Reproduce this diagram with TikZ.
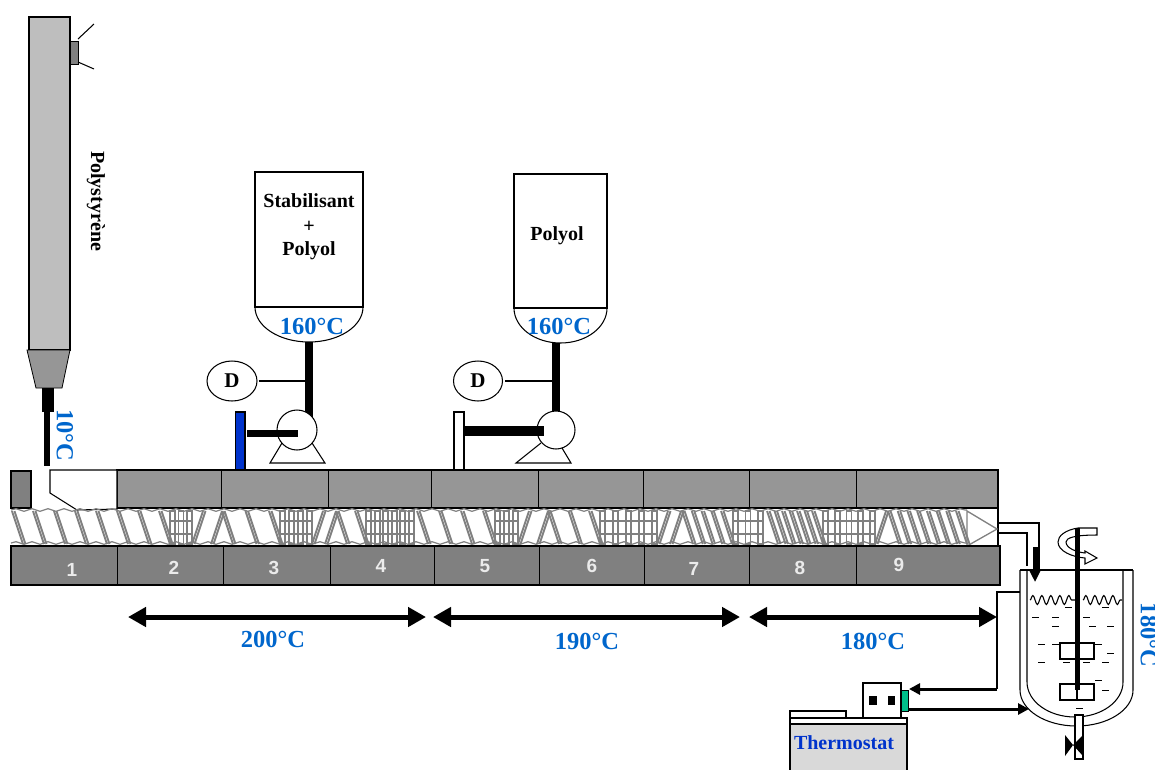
\documentclass[tikz,border=0pt]{standalone}
\usepackage{fontspec}
\setmainfont{Liberation Serif}
\setsansfont{Liberation Sans}
\usetikzlibrary{calc,arrows.meta,decorations.pathmorphing,shapes.geometric}
\definecolor{topgrey}{HTML}{969696}
\definecolor{lowgrey}{HTML}{808080}
\definecolor{colgrey}{HTML}{BEBEBE}
\definecolor{tempblue}{HTML}{0066CC}
\definecolor{pumpblue}{HTML}{0033CC}
\definecolor{portgreen}{HTML}{00C08A}
\tikzset{
    tlabel/.style={font=\fontsize{24.5}{24.5}\selectfont\bfseries, text=tempblue, inner sep=0pt},
    blabel/.style={font=\fontsize{20}{20}\selectfont\bfseries, inner sep=0pt},
    zonenum/.style={font=\sffamily\fontsize{19}{19}\selectfont\bfseries, text=white!92!black, inner sep=0pt},
    screw/.style={draw=lowgrey, line width=1.9pt},
    outline/.style={line width=1.05pt},
    span/.style={line width=5pt, {Triangle[length=18pt,width=19pt]}-{Triangle[length=18pt,width=19pt]}},
    feed/.style={line width=3pt, -{Triangle[length=11pt,width=11pt]}},
    dosing/.style={draw, ellipse, line width=1.05pt, inner sep=0pt, font=\fontsize{21}{21}\selectfont\bfseries},
    surface/.style={line width=1.1pt, decorate, decoration={snake,amplitude=4.5pt,segment length=9pt}}
}
% forward flights: start, end, number of bars
\newcommand{\flights}[3]{
    \foreach \k in {1,...,#3}{
        \pgfmathsetmacro{\xa}{#1+(\k-1)*(#2-#1-11)/max(#3-1,1)}
        \draw[screw] (\xa,511) -- (\xa+11,544);
        \draw[screw] (\xa+2.5,511) -- (\xa+13.5,544);
    }
}
% reversed flights
\newcommand{\backflights}[3]{
    \foreach \k in {1,...,#3}{
        \pgfmathsetmacro{\xa}{#1+11+(\k-1)*(#2-#1-11)/max(#3-1,1)}
        \draw[screw] (\xa,511) -- (\xa-11,544);
        \draw[screw] (\xa+2.5,511) -- (\xa-8.5,544);
    }
}
% kneading discs
\newcommand{\kneads}[3]{
    \foreach \k in {1,...,#3}{
        \pgfmathsetmacro{\xa}{#1+(\k-1)*(#2-#1-5)/max(#3-1,1)}
        \draw[screw] (\xa,511) rectangle (\xa+5,544);
    }
    \draw[screw, line width=1.3pt] (#1,521) -- (#2,521);
    \draw[screw, line width=1.3pt] (#1,534) -- (#2,534);
}
\begin{document}
\begin{tikzpicture}[x=1pt, y=-1pt]
    \useasboundingbox (0,0) rectangle (1155,769);

    %mark points
        \coordinate (colbot) at (48,388);
        \coordinate (colin) at (47,466);
        \coordinate (hopA) at (309,342);
        \coordinate (pumpA) at (297,430);
        \coordinate (hopB) at (556,343);
        \coordinate (pumpB) at (556,430);
        \coordinate (jacktop) at (997,592);
        \coordinate (jackbot) at (997,689);

    %polystyrene column
        \draw[outline, fill=colgrey] (29,17) rectangle (70,350);
        \draw[line width=.8pt, fill=lowgrey] (70,41) rectangle (78,64);
        \draw[outline] (78,39) -- (94,24);
        \draw[outline] (78,62) -- (94,69);
        \draw[line width=.8pt, fill=topgrey] (27,350) -- (70,350) -- (62,388) -- (36,388) -- cycle;
        \draw[line width=12pt] (colbot) -- ++(0,24);
        \draw[line width=6pt] (47,410) -- (colin);
        \node[blabel, rotate=-90] (polystyrene) at (96,201) {Polystyrène};
        \node[tlabel, rotate=-90] (tcol) at (65,435) {10°C};

    %barrel top
        \draw[outline, fill=topgrey] (117,470) rectangle (998,508);
        \foreach \x in {221,328,431,538,643,749,856}
            \draw[line width=.9pt] (\x,470) -- (\x,508);
        \draw[outline, fill=lowgrey] (11,471) rectangle (31,508);
        \draw[outline, fill=white] (50,470) -- (117,470) -- (117,509) -- (77,510) -- (50,493) -- cycle;

    %screw
        \draw[outline] (117,508) -- (998,508);
        \draw[outline] (998,508) -- (998,546);
        \draw[screw, line width=1.2pt, decorate, decoration={snake,amplitude=1.3pt,segment length=16pt}] (11,510) -- (967,510);
        \draw[screw, line width=1.2pt, decorate, decoration={snake,amplitude=1.3pt,segment length=16pt}] (11,543) -- (967,543);
        \flights{12}{170}{8}
        \kneads{170}{192}{3}
        \backflights{192}{222}{2}
        \flights{222}{280}{3}
        \kneads{280}{312}{4}
        \backflights{312}{336}{2}
        \flights{336}{366}{2}
        \kneads{366}{414}{6}
        \flights{417}{494}{4}
        \kneads{495}{518}{3}
        \backflights{518}{548}{2}
        \flights{548}{600}{3}
        \kneads{600}{657}{5}
        \backflights{657}{681}{2}
        \flights{682}{732}{5}
        \kneads{733}{763}{3}
        \flights{767}{823}{7}
        \kneads{823}{875}{5}
        \backflights{875}{888}{1}
        \flights{888}{967}{8}
        \draw[screw, line width=1.3pt] (967,511) -- (997,529) -- (967,546) -- cycle;

    %barrel bottom
        \draw[outline, fill=lowgrey] (11,546) rectangle (1000,585);
        \foreach \x in {117,223,330,434,539,644,749,856}
            \draw[line width=.9pt] (\x,546) -- (\x,585);
        \node[zonenum] (zone1) at (72,570) {1};
        \node[zonenum] (zone2) at (174,568) {2};
        \node[zonenum] (zone3) at (274,568) {3};
        \node[zonenum] (zone4) at (381,566) {4};
        \node[zonenum] (zone5) at (485,566) {5};
        \node[zonenum] (zone6) at (592,566) {6};
        \node[zonenum] (zone7) at (694,569) {7};
        \node[zonenum] (zone8) at (800,568) {8};
        \node[zonenum] (zone9) at (899,565) {9};

    %first feed tank
        \draw[outline] (255,307) -- (255,172) -- (363,172) -- (363,307) -- cycle;
        \draw[outline] (255,307) arc[start angle=180, end angle=360, x radius=54, y radius=-35];
        \node[blabel] (stab) at (309,201) {Stabilisant};
        \node[blabel] (plus) at (309,227) {+};
        \node[blabel] (polyolA) at (309,251) {Polyol};
        \node[tlabel] (tA) at (312,326) {160°C};
        \draw[line width=8pt] (hopA) -- (309,420);
        \node[dosing, minimum width=50pt, minimum height=40pt] (doseA) at (232,381) {D};
        \draw[outline] (doseA.east) ++(1,0) -- (306,381);
        \draw[outline] (282,443) -- (270,463) -- (325,463) -- (312,443);
        \draw[outline, fill=white] (pumpA) circle (20);
        \draw[outline, fill=pumpblue] (235.5,412) rectangle (245,470);
        \draw[line width=7pt] (247,433) -- (298,433);

    %second feed tank
        \draw[outline] (514,308) -- (514,174) -- (607,174) -- (607,308) -- cycle;
        \draw[outline] (514,308) arc[start angle=180, end angle=360, x radius=46.5, y radius=-35];
        \node[blabel] (polyolB) at (557,236) {Polyol};
        \node[tlabel] (tB) at (559,326) {160°C};
        \draw[line width=8pt] (hopB) -- (556,420);
        \node[dosing, minimum width=49pt, minimum height=40pt] (doseB) at (478,381) {D};
        \draw[outline] (doseB.east) ++(2,0) -- (552,381);
        \draw[outline] (541,443) -- (516,463) -- (571,463) -- (559,443);
        \draw[outline, fill=white] (pumpB) circle (19);
        \draw[outline, fill=white] (454,412) rectangle (464,470);
        \draw[line width=10pt] (464,431) -- (544,431);

    %temperature zones
        \draw[span] (128,617) -- (426,617);
        \draw[span] (433,617) -- (740,617);
        \draw[span] (749,617) -- (997,617);
        \node[tlabel] (t200) at (273,639) {200°C};
        \node[tlabel] (t190) at (587,641) {190°C};
        \node[tlabel] (t180) at (873,641) {180°C};

    %thermostat
        \draw[outline, fill=white] (790,711) rectangle (846,718);
        \draw[outline, fill=white] (863,683) rectangle (901,718);
        \fill (869,696) rectangle (877,705);
        \fill (888,696) rectangle (895,705);
        \draw[line width=.8pt, fill=portgreen] (901,690) rectangle (908,711);
        \draw[outline, fill=white] (790,718) rectangle (907,724);
        \draw[outline, fill=black!15] (790,724) rectangle (907,775);
        \node[blabel, text=pumpblue] (thermostat) at (844,743) {Thermostat};

    %reactor
        \draw[outline] (998,523) -- (1039,523) -- (1039,569);
        \draw[outline] (998,533) -- (1027,533) -- (1027,566);
        \draw[outline] (1020,570) -- (1133,570);
        \draw[outline] (1020,570) -- (1020,690) arc[start angle=180, end angle=360, x radius=56.5, y radius=-36] -- (1133,570);
        \draw[outline] (1027,570) -- (1027,682) arc[start angle=180, end angle=360, x radius=48, y radius=-35] -- (1123,570);
        \draw[line width=5pt, -{Triangle[length=12pt,width=11pt]}] (1035,547) -- (1035,582);
        \draw[surface] (1030,600) -- (1075,600);
        \draw[surface] (1083,600) -- (1122,600);
        \foreach \xa/\ya in {1065/607,1102/607,1032/617,1052/617,1083/617,1052/626,1089/626,1107/626,1038/644,1052/644,1095/644,1107/653,1038/662,1063/662,1083/662,1102/662,1095/680,1102/690,1076/708}
            \draw[line width=1pt] (\xa,\ya) -- ++(7,0);
        \draw[outline] (1060,643) rectangle (1094,659);
        \draw[outline] (1060,684) rectangle (1094,700);
        \draw[outline, fill=white] (1097,528) -- (1078,528) .. controls (1065,530) and (1058,536) .. (1058,542) .. controls (1058,551) and (1072,557) .. (1085,558) -- (1085,564) -- (1097,558) -- (1085,551) -- (1085,553) .. controls (1076,552) and (1066,548) .. (1066,542) .. controls (1066,538) and (1074,535) .. (1097,535) -- cycle;
        \draw[line width=5pt] (1077,528) -- (1077,690);
        \draw[outline] (1077,690) -- (1077,700);
        \draw[outline, fill=white] (1075,715) rectangle (1083,759);
        \fill (1065,735) -- (1073,745) -- (1065,756) -- cycle;
        \fill (1083,735) -- (1073,745) -- (1083,756) -- cycle;
        \node[tlabel, rotate=-90] (treactor) at (1149,635) {180°C};

    %jacket loop
        \draw[outline] (1020,592) -- (jacktop) -- (jackbot);
        \draw[feed] (jackbot) -- (909,689);
        \draw[feed] (908,709) -- (1029,709);
\end{tikzpicture}
\end{document}
